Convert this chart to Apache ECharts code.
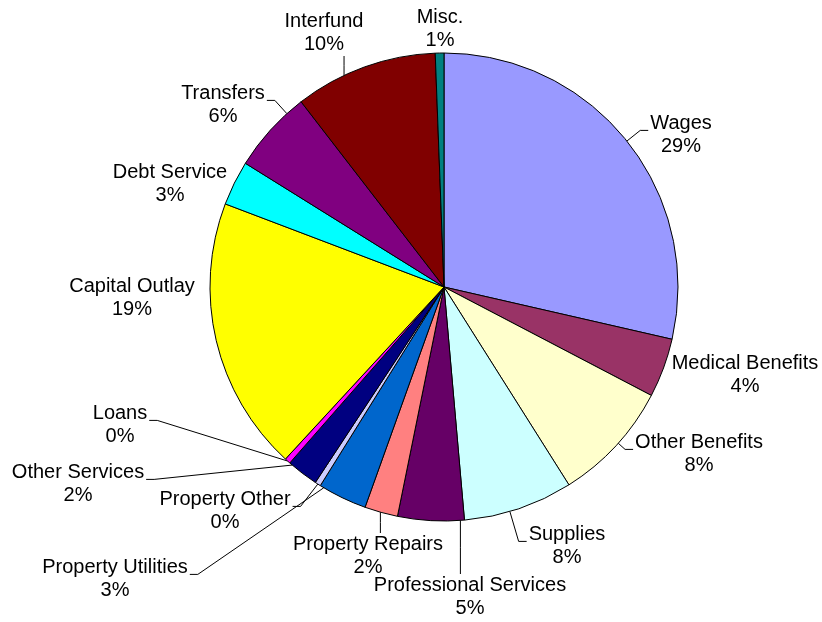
<!DOCTYPE html>
<html>
<head>
<meta charset="utf-8">
<script src="https://cdn.jsdelivr.net/npm/echarts@6/dist/echarts.min.js"></script>
<style>
  html, body { margin: 0; padding: 0; background: #fff; }
  #pieGraph { width: 822px; height: 622px; }
</style>
</head>
<body>
<div id="pieGraph"></div>
<script>
  // slices, clockwise from 12 o'clock
  const categories = [
    'Wages', 'Medical Benefits', 'Other Benefits', 'Supplies',
    'Professional Services', 'Property Repairs', 'Property Utilities',
    'Property Other', 'Other Services', 'Loans', 'Capital Outlay',
    'Debt Service', 'Transfers', 'Interfund', 'Misc.'
  ]
  // share of spending, %
  const values = [28.7, 4.1, 8.4, 7.6, 4.6, 2.3, 3.4, 0.4, 2.2, 0.4, 19.0, 3.1, 5.7, 9.9, 0.6]

  const colors = [
    '#9999ff', '#993366', '#ffffcc', '#ccffff', '#660066', '#ff8080', '#0066cc',
    '#ccccff', '#000080', '#ff00ff', '#ffff00', '#00ffff', '#800080', '#800000', '#008080'
  ]
  // centre of each label block, px
  const labelSpots = [
    [681, 135], [745, 375], [699, 454], [567, 546], [470, 597], [368, 556], [115, 579],
    [225, 511], [78, 484], [120, 425], [132, 298], [170, 184], [223, 105], [324, 33], [440, 29]
  ]
  // labels sitting right next to their slice, no leader line
  const noLeader = ['Medical Benefits', 'Capital Outlay', 'Debt Service', 'Misc.']
  // labels reached by a straight vertical leader
  const dropLeader = ['Professional Services', 'Property Repairs', 'Interfund']

  const cx = 444, cy = 287, R = 234

  // slice angle ranges (deg, clockwise from top), from the values
  const total = values.reduce((a, b) => a + b, 0)
  let acc = 0
  const spans = values.map(v => {
    const a0 = acc / total * 360
    acc += v
    return [a0, acc / total * 360]
  })

  function angleOf(x, y) {
    let a = Math.atan2(x - cx, cy - y) * 180 / Math.PI
    return a < 0 ? a + 360 : a
  }
  function onArc(a) {
    const t = a * Math.PI / 180
    return [cx + R * Math.sin(t), cy - R * Math.cos(t)]
  }
  function clampToSlice(i, a) {
    const [a0, a1] = spans[i]
    if (a1 - a0 < 2) return (a0 + a1) / 2
    const m = Math.min((a1 - a0) * 0.1, 1)
    return Math.max(a0 + m, Math.min(a1 - m, a))
  }

  // Excel-like leader lines: straight down/up for a few labels,
  // otherwise into the side of the label with a short flat tick
  function leader(i, w, h) {
    const [x, y] = labelSpots[i]
    const left = x - w / 2, right = x + w / 2, top = y - h / 2, bottom = y + h / 2
    if (dropLeader.indexOf(categories[i]) >= 0) {
      const p = onArc(clampToSlice(i, angleOf(x, y)))
      const ax = Math.max(left + 4, Math.min(right - 4, p[0]))
      const ay = p[1] < top ? top : bottom
      return [p, [ax, (p[1] + ay) / 2], [ax, ay]]
    }
    const toRight = x < cx
    const ax = toRight ? right + 2 : left - 2
    const ay = top + h * 0.4
    const ex = toRight ? ax + 8 : ax - 8
    const p = onArc(clampToSlice(i, angleOf(ex, ay)))
    return [p, [ex, ay], [ax, ay]]
  }

  let pieGraph = echarts.init(document.getElementById('pieGraph'))
  pieGraph.setOption({
    animation: false,
    series: [
      {
        type: 'pie',
        center: [cx, cy],
        radius: R,
        startAngle: 90,
        clockwise: true,
        avoidLabelOverlap: false,
        data: categories.map((name, i) => ({
          name: name,
          value: values[i],
          labelLine: { show: noLeader.indexOf(name) < 0 }
        })),
        color: colors,
        itemStyle: { borderColor: '#000', borderWidth: 1 },
        emphasis: { disabled: true },
        label: {
          show: true,
          position: 'outside',
          color: '#000',
          fontFamily: 'Liberation Sans, Arial, sans-serif',
          fontSize: 20,
          lineHeight: 23,
          formatter: p => p.name + '\n' + Math.round(p.percent) + '%'
        },
        labelLine: {
          show: true,
          length: 10,
          length2: 8,
          lineStyle: { color: '#000', width: 1 }
        },
        labelLayout: p => ({
          x: labelSpots[p.dataIndex][0],
          y: labelSpots[p.dataIndex][1],
          align: 'center',
          verticalAlign: 'middle',
          labelLinePoints: leader(p.dataIndex, p.labelRect.width, p.labelRect.height)
        })
      }
    ]
  })
</script>
</body>
</html>
